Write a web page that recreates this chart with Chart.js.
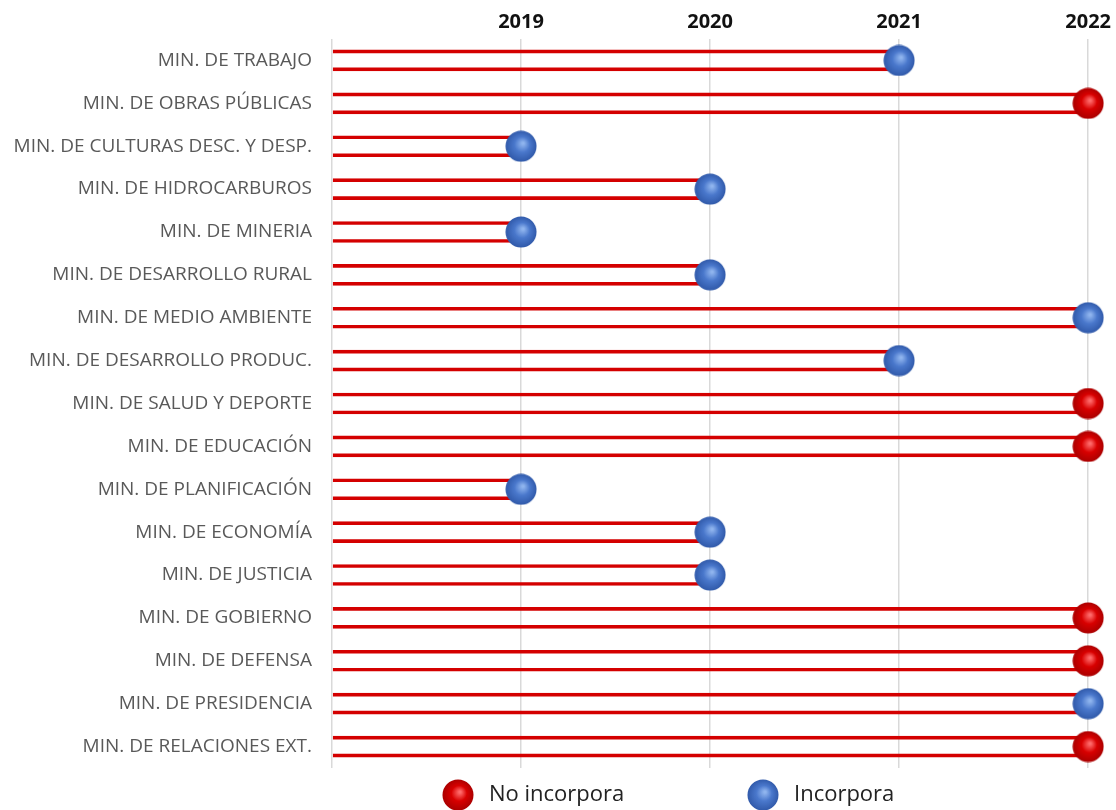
<!DOCTYPE html>
<html>
<head>
<meta charset="utf-8">
<script src="https://cdn.jsdelivr.net/npm/chart.js@4/dist/chart.umd.min.js"></script>
<style>
  html, body { margin: 0; padding: 0; background: #fff; }
  #wrap { width: 1116px; height: 810px; }
</style>
</head>
<body>
<div id="wrap"><canvas id="lollipop"></canvas></div>
<script>
const categories = [
  'MIN. DE TRABAJO', 'MIN. DE OBRAS PÚBLICAS', 'MIN. DE CULTURAS DESC. Y DESP.',
  'MIN. DE HIDROCARBUROS', 'MIN. DE MINERIA', 'MIN. DE DESARROLLO RURAL',
  'MIN. DE MEDIO AMBIENTE', 'MIN. DE DESARROLLO PRODUC.', 'MIN. DE SALUD Y DEPORTE',
  'MIN. DE EDUCACIÓN', 'MIN. DE PLANIFICACIÓN', 'MIN. DE ECONOMÍA',
  'MIN. DE JUSTICIA', 'MIN. DE GOBIERNO', 'MIN. DE DEFENSA',
  'MIN. DE PRESIDENCIA', 'MIN. DE RELACIONES EXT.'
];
const years = [2021, 2022, 2019, 2020, 2019, 2020, 2022, 2021, 2022, 2022, 2019, 2020, 2020, 2022, 2022, 2022, 2022];
const status = ['Incorpora', 'No incorpora', 'Incorpora', 'Incorpora', 'Incorpora', 'Incorpora',
  'Incorpora', 'Incorpora', 'No incorpora', 'No incorpora', 'Incorpora', 'Incorpora',
  'Incorpora', 'No incorpora', 'No incorpora', 'Incorpora', 'No incorpora'];
const yearTicks = [2019, 2020, 2021, 2022];
const startYear = 2018;

// little shaded balls used as point style
function sphere(light, mid, dark) {
  var c = document.createElement('canvas');
  c.width = 32; c.height = 32;
  var g = c.getContext('2d');
  var grad = g.createRadialGradient(18, 13, 1, 16, 16, 16);
  grad.addColorStop(0, light);
  grad.addColorStop(0.45, mid);
  grad.addColorStop(1, dark);
  g.fillStyle = grad;
  g.beginPath();
  g.arc(16, 16, 15.5, 0, Math.PI * 2);
  g.fill();
  return c;
}
var redBall = sphere('#ff6a6a', '#d80000', '#a80000');
var blueBall = sphere('#8fb4ee', '#4a78cc', '#2f58a8');

function pointsFor(s) {
  var out = [];
  categories.forEach(function (c, i) {
    if (status[i] === s) out.push({ x: years[i], y: c });
  });
  return out;
}

// legend drawn by hand so it sits where the original has it
var ballLegend = {
  id: 'ballLegend',
  afterDraw: function (chart) {
    var ctx = chart.ctx;
    var items = [
      { img: redBall, text: 'No incorpora', x: 458 },
      { img: blueBall, text: 'Incorpora', x: 763 }
    ];
    ctx.save();
    ctx.font = '22px "Open Sans"';
    ctx.fillStyle = '#222';
    ctx.textBaseline = 'middle';
    items.forEach(function (it) {
      ctx.drawImage(it.img, it.x - 16, 795 - 16);
      ctx.fillText(it.text, it.x + 31, 795);
    });
    ctx.restore();
  }
};

var ctx = document.getElementById('lollipop').getContext('2d');
var chart = new Chart(ctx, {
  data: {
    labels: categories,
    datasets: [
      {
        type: 'line',
        label: 'No incorpora',
        data: pointsFor('No incorpora'),
        showLine: false,
        pointStyle: redBall,
        pointRadius: 16,
        clip: false,
        order: 1
      },
      {
        type: 'line',
        label: 'Incorpora',
        data: pointsFor('Incorpora'),
        showLine: false,
        pointStyle: blueBall,
        pointRadius: 16,
        clip: false,
        order: 1
      },
      {
        type: 'bar',
        label: 'años',
        data: years,
        base: startYear,
        barThickness: 21,
        backgroundColor: 'rgba(255,255,255,0)',
        borderColor: '#d40000',
        borderWidth: { top: 3, bottom: 3, left: 0, right: 0 },
        borderSkipped: false,
        order: 2
      }
    ]
  },
  options: {
    indexAxis: 'y',
    maintainAspectRatio: false,
    responsive: true,
    animation: false,
    layout: { padding: { left: 0, right: 26, top: 0, bottom: 42 } },
    plugins: {
      legend: { display: false },
      tooltip: { enabled: false }
    },
    scales: {
      x: {
        type: 'linear',
        position: 'top',
        min: startYear,
        max: yearTicks[yearTicks.length - 1],
        afterBuildTicks: function (s) {
          s.ticks = [{ value: startYear }].concat(yearTicks.map(function (v) { return { value: v }; }));
        },
        afterFit: function (s) { s.height = 39; },
        ticks: {
          callback: function (v) { return v === startYear ? '' : String(v); },
          font: { family: 'Open Sans', size: 20, weight: 'bold' },
          color: '#111',
          padding: 5
        },
        grid: { color: '#d9d9d9', lineWidth: 1.5, drawTicks: false },
        border: { display: false }
      },
      y: {
        type: 'category',
        afterFit: function (s) { s.width = 332; },
        ticks: {
          font: { family: 'Open Sans', size: 19 },
          color: '#595959',
          padding: 12
        },
        grid: { display: false },
        border: { display: false }
      }
    }
  },
  plugins: [ballLegend]
});
</script>
</body>
</html>
